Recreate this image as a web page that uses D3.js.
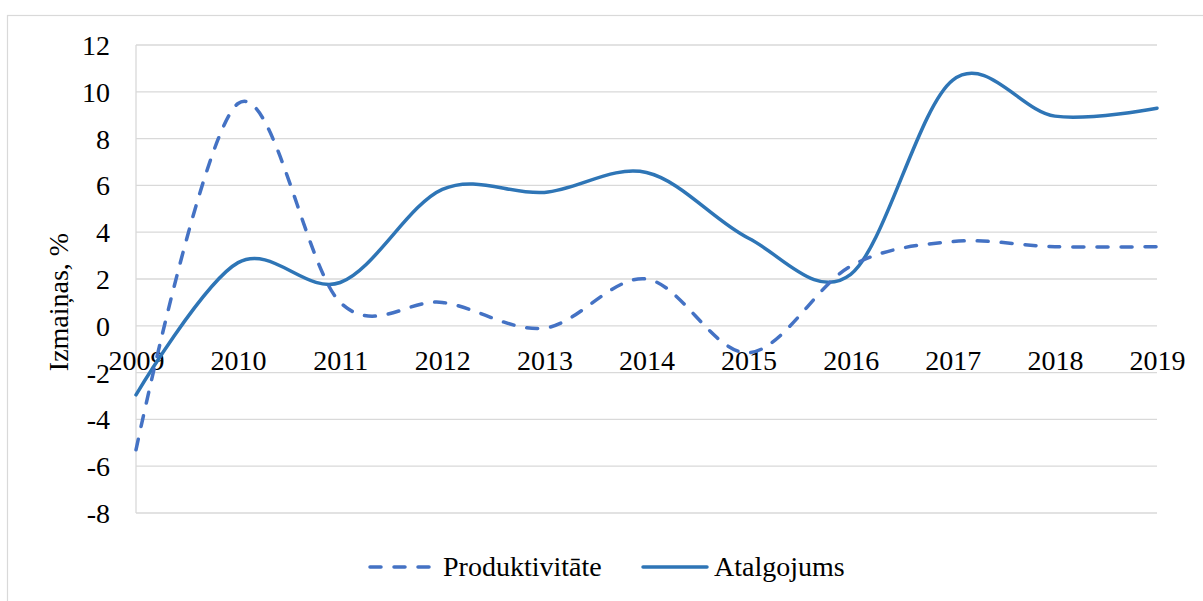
<!DOCTYPE html>
<html>
<head>
<meta charset="utf-8">
<script src="https://cdn.jsdelivr.net/npm/d3@7"></script>
<style>
  body { margin: 0; background: #fff; }
  text { font-family: "Liberation Serif", "Times New Roman", serif; fill: #000; }
</style>
</head>
<body>
<div id="chart"></div>
<script>
// Data
const years = ["2009", "2010", "2011", "2012", "2013", "2014", "2015", "2016", "2017", "2018", "2019"];
const produktivitate = [-5.3, 9.5, 1.0, 1.0, -0.1, 2.0, -1.15, 2.55, 3.6, 3.38, 3.38];
const atalgojums = [-2.95, 2.7, 1.85, 5.83, 5.7, 6.55, 3.74, 2.2, 10.5, 8.96, 9.3];
const yTicks = [-8, -6, -4, -2, 0, 2, 4, 6, 8, 10, 12];

// Set Dimensions
const width = 1203, height = 601;
const plotLeft = 136, plotRight = 1157, plotTop = 45, plotBottom = 513;
const fontSize = "28px";

var svg = d3.select("#chart")
  .append("svg")
  .attr("width", width)
  .attr("height", height);

// chart border
svg.append("rect")
  .attr("x", 7.5).attr("y", 15.5)
  .attr("width", 1220).attr("height", 620)
  .attr("fill", "none")
  .attr("stroke", "#d9d9d9")
  .attr("stroke-width", 1.2);

var xScale = d3.scalePoint()
  .domain(years)
  .range([plotLeft, plotRight]);

var yScale = d3.scaleLinear()
  .domain([-8, 12])
  .range([plotBottom, plotTop]);

// gridlines
svg.append("g")
  .selectAll("line")
  .data(yTicks)
  .enter()
  .append("line")
    .attr("x1", plotLeft).attr("x2", plotRight)
    .attr("y1", d => yScale(d)).attr("y2", d => yScale(d))
    .attr("stroke", "#d9d9d9")
    .attr("stroke-width", 1.3);

// vertical axis line
svg.append("line")
  .attr("x1", plotLeft).attr("x2", plotLeft)
  .attr("y1", plotTop).attr("y2", plotBottom)
  .attr("stroke", "#d9d9d9")
  .attr("stroke-width", 1.3);

// Y Axis labels
var yAxis = svg.append("g")
  .attr("transform", "translate(" + (plotLeft - 26) + ",0)")
  .call(d3.axisLeft(yScale).tickValues(yTicks).tickSize(0).tickFormat(d => String(d)));
yAxis.select(".domain").remove();
yAxis.selectAll("text")
  .attr("x", 0)
  .attr("dy", "0.34em")
  .style("font-size", fontSize)
  .style("font-family", "Liberation Serif");

// X Axis labels (sit at zero line)
var xAxis = svg.append("g")
  .attr("transform", "translate(0," + yScale(0) + ")")
  .call(d3.axisBottom(xScale).tickSize(0));
xAxis.select(".domain").remove();
xAxis.selectAll("text")
  .attr("y", 44)
  .attr("dy", 0)
  .style("font-size", fontSize)
  .style("font-family", "Liberation Serif");

// y title
svg.append("text")
  .attr("transform", "translate(68,302) rotate(-90)")
  .style("text-anchor", "middle")
  .style("font-size", fontSize)
  .text("Izmaiņas, %");

// Lines
var line = d3.line()
  .x((d, i) => xScale(years[i]))
  .y(d => yScale(d))
  .curve(d3.curveCardinal.tension(0));

svg.append("path")
  .datum(atalgojums)
  .attr("d", line)
  .attr("fill", "none")
  .attr("stroke", "#2e75b6")
  .attr("stroke-width", 3.5)
  .attr("stroke-linecap", "round");

svg.append("path")
  .datum(produktivitate)
  .attr("d", line)
  .attr("fill", "none")
  .attr("stroke", "#4472c4")
  .attr("stroke-width", 3.5)
  .attr("stroke-dasharray", "11,13")
  .attr("stroke-linecap", "round");

// Legend
var legend = svg.append("g").attr("transform", "translate(0,567)");
legend.append("line")
  .attr("x1", 370).attr("x2", 435).attr("y1", 0).attr("y2", 0)
  .attr("stroke", "#4472c4").attr("stroke-width", 3.5)
  .attr("stroke-dasharray", "11,13").attr("stroke-linecap", "round");
legend.append("text")
  .attr("x", 443).attr("y", 9)
  .style("font-size", fontSize)
  .text("Produktivitāte");
legend.append("line")
  .attr("x1", 643).attr("x2", 707).attr("y1", 0).attr("y2", 0)
  .attr("stroke", "#2e75b6").attr("stroke-width", 3.5)
  .attr("stroke-linecap", "round");
legend.append("text")
  .attr("x", 714).attr("y", 9)
  .style("font-size", fontSize)
  .text("Atalgojums");
</script>
</body>
</html>
